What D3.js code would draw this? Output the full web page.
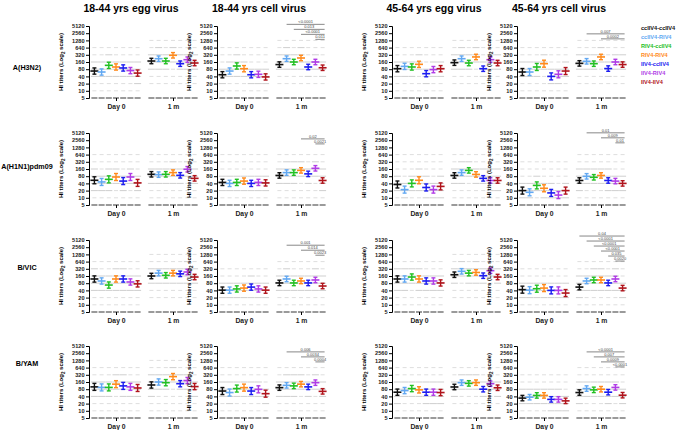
<!DOCTYPE html>
<html><head><meta charset="utf-8">
<script src="https://cdn.jsdelivr.net/npm/d3@7"></script>
<style>body{margin:0;background:#fff}svg{display:block;font-family:"Liberation Sans",Arial,sans-serif}</style>
</head><body><svg id="c" width="685" height="430"></svg>
<script>
const groups = ["ccIIV4-ccIIV4","ccIIV4-RIV4","RIV4-ccIIV4","RIV4-RIV4","IIV4-ccIIV4","IIV4-RIV4","IIV4-IIV4"];
const colors = ["#111111","#62a8f2","#22c022","#ff8a1c","#1c1cf0","#b03ce6","#b0141c"];
const strains = ["A(H3N2)","A(H1N1)pdm09","B/VIC","B/YAM"];
const panelTitles = ["18-44 yrs egg virus","18-44 yrs cell virus","45-64 yrs egg virus","45-64 yrs cell virus"];
const timepoints = ["Day 0","1 m"];
const yTicks = [5,10,20,40,80,160,320,640,1280,2560,5120];

// GMT per panel (4 panels x 2 timepoints), 7 groups each
const gmtH3N2 = [
  [67,61,116,99,90,70,55],[176,220,176,305,136,200,145],
  [47,67,109,84,47,49,38],[125,220,160,235,99,160,92],
  [84,105,99,128,52,77,84],[150,220,145,260,84,200,145],
  [61,61,99,136,40,49,67],[140,171,136,260,85,160,125]];
const gmtH1N1 = [
  [54,46,59,74,50,74,42],[96,93,96,113,87,156,65],
  [44,40,44,50,40,44,42],[86,113,113,140,100,171,53],
  [36,22,40,54,27,22,30],[86,113,140,95,65,53,53],
  [20,17,33,25,16,13,20],[53,79,72,86,53,50,40]];
const gmtBVIC = [
  [120,99,67,120,120,90,75],[160,211,171,211,197,235,145],
  [41,41,46,50,55,46,41],[82,120,82,99,82,109,61],
  [120,120,145,120,99,99,82],[181,251,211,225,165,267,145],
  [43,41,47,50,40,40,31],[55,99,109,109,82,120,50]];
const gmtBYAM = [
  [100,95,95,130,110,100,90],[120,160,150,269,136,184,103],
  [67,58,85,93,67,79,52],[93,116,110,130,100,150,65],
  [60,70,85,75,60,60,58],[99,150,140,150,80,136,92],
  [34,37,44,44,30,30,26],[58,85,75,80,60,95,45]];
// 95% CI fold (upper/GMT) per panel-time
const ciH3N2 = [1.35,1.3,1.35,1.3,1.35,1.3,1.4,1.3];
const ciH1N1 = [1.4,1.3,1.35,1.3,1.4,1.3,1.4,1.3];
const ciBVIC = [1.35,1.3,1.35,1.3,1.35,1.3,1.4,1.3];
const ciBYAM = [1.4,1.35,1.4,1.3,1.35,1.3,1.3,1.3];
// range of individual titers (gray marks) per panel-time
const loH3N2 = [10,20,10,20,10,20,10,20], hiH3N2 = [640,1280,640,1280,640,1280,640,1280];
const loH1N1 = [10,10,10,10,10,10,10,10], hiH1N1 = [640,640,640,640,640,640,320,640];
const loBVIC = [10,20,10,10,10,20,10,10], hiBVIC = [640,1280,320,640,640,1280,320,640];
const loBYAM = [10,10,10,10,10,20,10,10], hiBYAM = [640,1280,640,640,640,640,320,640];
// significance brackets: [panel, fromGroup, toGroup, label]
const sigH3N2 = [[1,1,6,"<0.0001"],[1,2,6,"0.013"],[1,3,6,"<0.0001"],[1,5,6,"0.011"],[3,1,6,"0.007"],[3,3,6,"0.0002"]];
const sigH1N1 = [[1,3,6,"0.02"],[1,5,6,"0.0021"],[3,1,6,"0.01"],[3,3,6,"0.009"],[3,5,6,"0.01"]];
const sigBVIC = [[1,1,6,"0.001"],[1,3,6,"0.014"],[1,5,6,"0.0023"],[3,0,6,"0.04"],[3,1,6,"<0.0001"],[3,2,6,"<0.0001"],[3,3,6,"<0.0001"],[3,4,6,"0.035"],[3,5,6,"0.0020"]];
const sigBYAM = [[1,1,6,"0.006"],[1,3,6,"0.0034"],[1,5,6,"0.0004"],[3,1,6,"<0.0001"],[3,2,6,"0.007"],[3,3,6,"0.0009"],[3,5,6,"<0.0001"]];
// titer level where the top bracket sits: [cell 18-44 panel, cell 45-64 panel]
const sigTopH3N2 = [6000,2400], sigTopH1N1 = [2900,5200], sigTopBVIC = [3100,7500], sigTopBYAM = [2900,2900];

const gmtAll = [gmtH3N2,gmtH1N1,gmtBVIC,gmtBYAM];
const ciAll = [ciH3N2,ciH1N1,ciBVIC,ciBYAM];
const loAll = [loH3N2,loH1N1,loBVIC,loBYAM], hiAll=[hiH3N2,hiH1N1,hiBVIC,hiBYAM];
const sigAll = [sigH3N2,sigH1N1,sigBVIC,sigBYAM];
const sigTopAll = [sigTopH3N2,sigTopH1N1,sigTopBVIC,sigTopBYAM];

const svg = d3.select("#c");
const rowBottom = [98,205,312,418];
const rowLabelY = [70,169,270,366];
const plotH = 72;
const axisX = [89,217,392,517];
const xTime = d3.scalePoint().domain(timepoints).range([27,84]);
const xGroup = d3.scalePoint().domain(groups).range([-21.6,21.6]);

panelTitles.forEach((t,p)=>{
  svg.append("text").attr("x",axisX[p]+42).attr("y",12).attr("text-anchor","middle")
    .attr("font-size",10.5).attr("font-weight","bold").text(t);
});
groups.forEach((g,i)=>{
  svg.append("text").attr("x",641).attr("y",30+i*9).attr("font-size",5.6).attr("font-weight","bold")
    .attr("fill",colors[i]).text(g);
});

strains.forEach((s,r)=>{
  const bottom=rowBottom[r];
  const y = d3.scaleLog().base(2).domain([5,5120]).range([bottom,bottom-plotH]);
  svg.append("text").attr("x",27).attr("y",rowLabelY[r]).attr("text-anchor","middle")
    .attr("font-size",7.2).attr("font-weight","bold").text(s);
  for(let p=0;p<4;p++){
    const g = svg.append("g").attr("transform",`translate(${axisX[p]},0)`);
    const ya = g.append("g").call(d3.axisLeft(y).tickValues(yTicks).tickFormat(d3.format("d")).tickSize(3).tickPadding(1.5));
    ya.selectAll("text").attr("font-size",5.6).attr("font-weight","bold").attr("fill","#222");
    ya.selectAll("line,path").attr("stroke","#000").attr("stroke-width",1);
    const yl = g.append("text").attr("transform",`translate(-26,${bottom-plotH/2}) rotate(-90)`)
      .attr("text-anchor","middle").attr("font-size",6).attr("font-weight","bold");
    yl.append("tspan").text("HI titers (Log");
    yl.append("tspan").attr("font-size",4.5).attr("dy",1.5).text("2");
    yl.append("tspan").attr("dy",-1.5).text(" scale)");
    timepoints.forEach((t,ti)=>{
      const k=p*2+ti;
      const lo=loAll[r][k], hi=hiAll[r][k];
      const levels = yTicks.filter(v=>v>=lo && v<=hi);
      groups.forEach((gr,gi)=>{
        const cx = xTime(t)+xGroup(gr);
        const m = gmtAll[r][k][gi];
        levels.forEach(v=>{
          const near = Math.abs(Math.log2(v/m))<1.6;
          g.append("rect").attr("x",cx-(near?3.5:2)).attr("y",y(v)-0.5).attr("width",near?7:4).attr("height",1)
            .attr("fill",near?"#cfcfcf":"#dedede");
        });
        g.append("rect").attr("x",cx-3).attr("y",y(5)-1).attr("width",6).attr("height",2).attr("fill","#9a9a9a");
      });
    });
    const xa = g.append("g").attr("transform",`translate(0,${bottom})`)
      .call(d3.axisBottom(xTime).tickSize(3).tickPadding(3));
    xa.select(".domain").remove();
    xa.selectAll("line").attr("stroke","#000");
    xa.selectAll("text").attr("font-size",6.8).attr("font-weight","bold").attr("fill","#222");
    timepoints.forEach((t,ti)=>{
      const k=p*2+ti;
      groups.forEach((gr,gi)=>{
        const cx = xTime(t)+xGroup(gr);
        const m=gmtAll[r][k][gi], f=ciAll[r][k];
        const c=colors[gi];
        const mk = g.append("g").attr("stroke",c).attr("stroke-width",1.4).attr("fill","none");
        mk.append("line").attr("x1",cx).attr("x2",cx).attr("y1",y(m/f)).attr("y2",y(m*f));
        mk.append("line").attr("x1",cx-2).attr("x2",cx+2).attr("y1",y(m/f)).attr("y2",y(m/f));
        mk.append("line").attr("x1",cx-2).attr("x2",cx+2).attr("y1",y(m*f)).attr("y2",y(m*f));
        mk.append("line").attr("x1",cx-4).attr("x2",cx+4).attr("y1",y(m)).attr("y2",y(m)).attr("stroke-width",1.6);
      });
    });
    const sigs = sigAll[r].filter(d=>d[0]===p);
    if(sigs.length){
      const y0 = y(sigTopAll[r][p===1?0:1]);
      sigs.forEach((d,i)=>{
        const x1 = xTime("1 m")+xGroup(groups[d[1]]), x2=xTime("1 m")+xGroup(groups[d[2]])+2;
        const yy = y0+i*5;
        g.append("line").attr("x1",x1).attr("x2",x2).attr("y1",yy).attr("y2",yy).attr("stroke","#555").attr("stroke-width",0.7);
        g.append("text").attr("x",(x1+x2)/2).attr("y",yy-1).attr("text-anchor","middle").attr("font-size",4).attr("fill","#444").text(d[3]);
      });
    }
  }
});
</script></body></html>
